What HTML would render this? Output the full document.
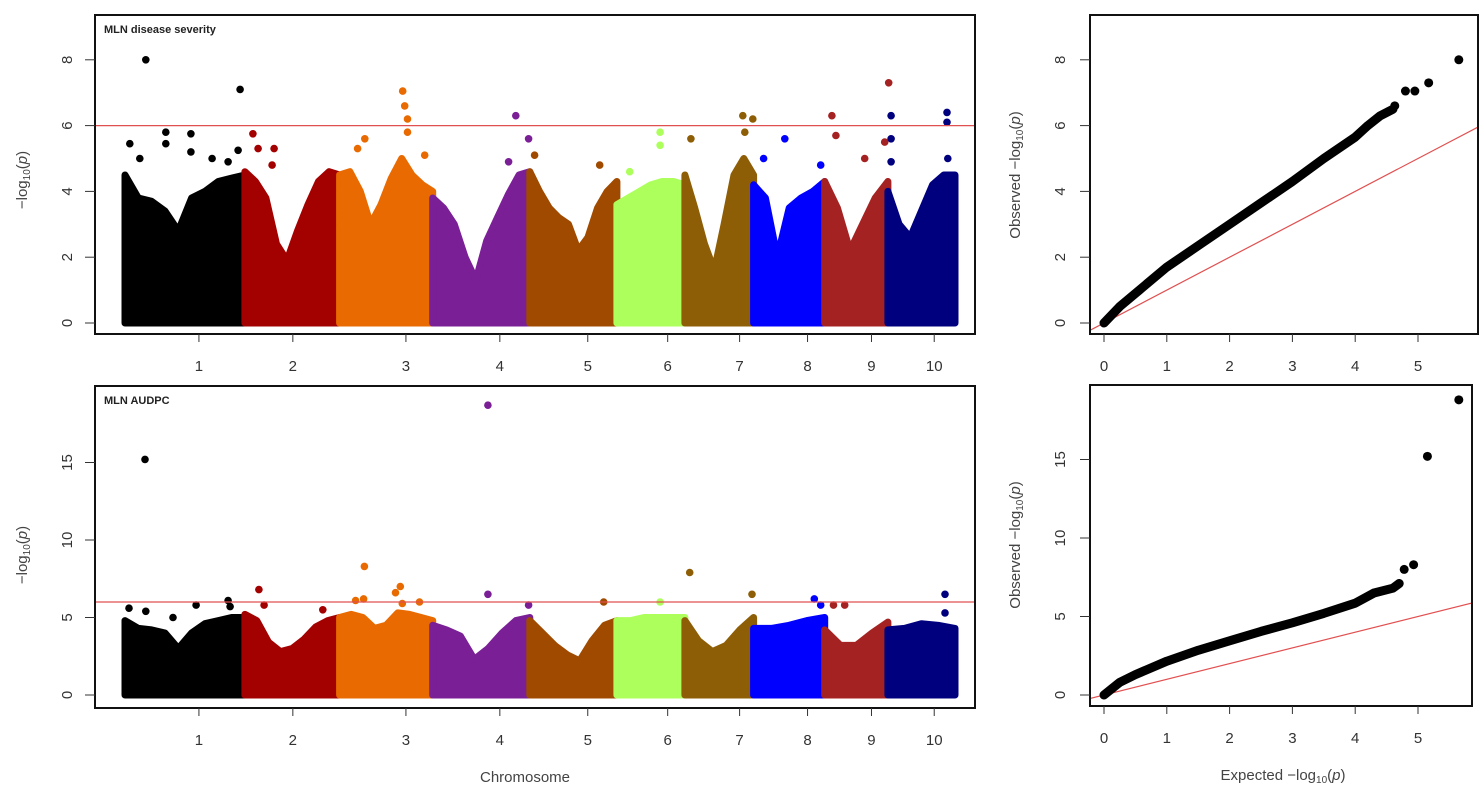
<!DOCTYPE html>
<html><head><meta charset="utf-8"><style>
body{margin:0;background:#fff}
svg{display:block;font-family:"Liberation Sans",Arial,sans-serif}
</style></head><body>
<svg id="fig" width="1481" height="795" viewBox="0 0 1481 795" xmlns="http://www.w3.org/2000/svg"></svg>
<script>
// ---------- DATA ----------
const chromosomes = ["1","2","3","4","5","6","7","8","9","10"];
const chromLengthsMb = [300,237,233,243,218,170,172,178,158,168];
const chromTickMb = [185,420,703,938,1158,1358,1538,1708,1868,2025];
const chromColors = ["#000000","#a30000","#e86a00","#7a1f96","#a04a00","#adff5c","#8e5e06","#0000ff","#a52222","#00007f"];
// envelope (upper edge of dense SNP cloud) sampled evenly along each chromosome
const envTop = [
 [4.5,3.8,3.7,3.4,2.8,3.8,4.0,4.3,4.4,4.5],
 [4.6,4.3,3.8,2.4,1.9,2.8,3.6,4.3,4.6,4.5],
 [4.5,4.6,4.0,3.0,3.6,4.4,5.0,4.5,4.2,4.0],
 [3.8,3.5,3.0,2.0,1.3,2.5,3.2,3.9,4.5,4.6],
 [4.6,4.0,3.5,3.2,3.0,2.2,2.6,3.5,4.0,4.3],
 [3.6,3.8,4.0,4.2,4.3,4.3,4.2],
 [4.5,3.5,2.4,1.6,3.0,4.5,5.0,4.5],
 [4.2,3.8,2.0,3.5,3.8,4.0,4.3],
 [4.3,3.5,2.2,3.0,3.8,4.3],
 [4.0,3.0,2.6,3.4,4.2,4.5,4.5]
];
const envBot = [
 [4.8,4.3,4.2,4.0,3.0,4.0,4.6,4.8,5.0,5.0],
 [5.2,4.8,3.4,2.8,3.0,3.6,4.4,4.8,5.0],
 [5.0,5.2,5.0,4.3,4.5,5.3,5.2,5.0,4.8],
 [4.5,4.2,3.8,2.3,3.0,4.0,4.8,5.0],
 [4.8,4.0,3.2,2.6,2.2,3.5,4.5,4.8],
 [4.8,4.8,5.0,5.0,5.0,5.0],
 [4.8,3.5,2.8,3.2,4.2,5.0],
 [4.3,4.3,4.5,4.8,5.0],
 [4.2,3.2,3.2,4.0,4.7],
 [4.2,4.3,4.6,4.5,4.3]
];
// significant / outlying SNPs : chromosome index, position within chromosome (Mb), -log10(p)
const peakChrTop = [0,0,0,0,0,0,0,0,0,0,0, 1,1,1,1, 2,2,2,2,2,2,2, 3,3,3, 4,4, 5,5,5, 6,6,6,6, 7,7,7, 8,8,8,8,8, 9,9,9,9,9,9];
const peakPosTop = [52,288,12,102,102,165,165,37,218,258,283, 20,33,68,73, 158,163,170,170,63,45,213, 208,190,240, 12,175, 108,108,32, 145,170,15,150, 78,25,168, 18,28,160,150,100, 8,8,8,148,148,150];
const peakValTop = [8.0,7.1,5.45,5.8,5.45,5.75,5.2,5.0,5.0,4.9,5.25, 5.75,5.3,4.8,5.3, 7.05,6.6,6.2,5.8,5.6,5.3,5.1, 6.3,4.9,5.6, 5.1,4.8, 5.8,5.4,4.6, 6.3,6.2,5.6,5.8, 5.6,5.0,4.8, 6.3,5.7,7.3,5.5,5.0, 6.3,5.6,4.9,6.4,6.1,5.0];
const peakChrBot = [0,0,0,0,0,0,0, 1,1,1, 2,2,2,2,2,2,2, 3,3,3, 4, 5, 6,6, 7,7, 8,8, 9,9];
const peakPosBot = [50,10,52,178,258,263,120, 35,48,195, 62,60,40,152,140,200,157, 138,138,240, 185, 108, 12,168, 152,168, 22,50, 143,143];
const peakValBot = [15.2,5.6,5.4,5.8,6.1,5.7,5.0, 6.8,5.8,5.5, 8.3,6.2,6.1,7.0,6.6,6.0,5.9, 18.7,6.5,5.8, 6.0, 6.0, 7.9,6.5, 6.2,5.8, 5.8,5.8, 6.5,5.3];
// QQ plots: expected vs observed
const qqExpTop = [0,0.25,0.5,1,1.5,2,2.5,3,3.5,4,4.2,4.4,4.6];
const qqObsTop = [0,0.5,0.9,1.7,2.35,3.0,3.65,4.3,5.0,5.65,6.0,6.3,6.5];
const qqPtExpTop = [4.63,4.8,4.95,5.17,5.65];
const qqPtObsTop = [6.6,7.05,7.05,7.3,8.0];
const qqExpBot = [0,0.25,0.5,1,1.5,2,2.5,3,3.5,4,4.3,4.6,4.7];
const qqObsBot = [0,0.8,1.3,2.15,2.85,3.45,4.05,4.6,5.2,5.85,6.5,6.8,7.1];
const qqPtExpBot = [4.78,4.93,5.15,5.65];
const qqPtObsBot = [8.0,8.3,15.2,18.8];
const yTicksTop = [0,2,4,6,8];
const yTicksBot = [0,5,10,15];
const qqXTicks = [0,1,2,3,4,5];
const threshold = 6;

// ---------- DRAWING ----------
const NS="http://www.w3.org/2000/svg";
const svg=document.getElementById('fig');
function el(tag,attrs,parent,txt){const e=document.createElementNS(NS,tag);for(const k in attrs)e.setAttribute(k,attrs[k]);if(txt!==undefined)e.textContent=txt;(parent||svg).appendChild(e);return e;}
const chromStart=[];let acc=0;chromLengthsMb.forEach(l=>{chromStart.push(acc);acc+=l;});
const totalMb=acc;
function xGenome(mb){return 125+mb/totalMb*830;}

function manhattan(o){
  const g=el('g',{});
  
  
  const y=v=>o.y0-v*o.ppu;
  chromosomes.forEach((c,i)=>{
    const env=o.env[i];const n=env.length;
    let pts=[[xGenome(chromStart[i]),y(0)]];
    env.forEach((v,k)=>{pts.push([xGenome(chromStart[i]+chromLengthsMb[i]*k/(n-1)),y(v)]);});
    pts.push([xGenome(chromStart[i]+chromLengthsMb[i]),y(0)]);
    const p=el('polygon',{points:pts.map(p=>p.map(q=>q.toFixed(1)).join(',')).join(' '),fill:chromColors[i],stroke:chromColors[i],'stroke-width':7,'stroke-linejoin':'round'},g);
    
    
  });
  o.pc.forEach((ci,k)=>{
    const d=el('circle',{cx:xGenome(chromStart[ci]+o.pp[k]).toFixed(1),cy:y(o.pv[k]).toFixed(1),r:3.8,fill:chromColors[ci]},g);
    
    
  });
  const t=el('line',{x1:o.bx0,x2:o.bx1,y1:y(threshold),y2:y(threshold),stroke:'#e05050','stroke-width':1.3},g);
  
  
  const b=el('rect',{x:o.bx0,y:o.by0,width:o.bx1-o.bx0,height:o.by1-o.by0,fill:'none',stroke:'#111','stroke-width':2},g);
  
  
  o.yt.forEach(v=>{
    el('line',{x1:85,x2:o.bx0,y1:y(v),y2:y(v),stroke:'#333','stroke-width':1},g);
    const tx=el('text',{x:67,y:y(v),'font-size':15,fill:'#333','text-anchor':'middle',transform:`rotate(-90 67 ${y(v)})`,dy:5},g,String(v));
    
    
  });
  chromTickMb.forEach((mb,i)=>{
    const x=xGenome(mb);
    el('line',{x1:x,x2:x,y1:o.by1,y2:o.by1+8,stroke:'#333','stroke-width':1},g);
    const tx=el('text',{x:x,y:o.by1+37,'font-size':15,fill:'#333','text-anchor':'middle'},g,chromosomes[i]);
    
    
  });
  const ttl=el('text',{x:o.bx0+9,y:o.by0+18,'font-size':11,'font-weight':'bold',fill:'#222'},g,o.title);
  
  
  const yl=el('text',{x:0,y:0,'font-size':15,fill:'#444','text-anchor':'middle',transform:`translate(27 ${o.ylabY}) rotate(-90)`},g);
  yl.innerHTML='−log<tspan font-size="10" dy="3">10</tspan><tspan dy="-3">(</tspan><tspan font-style="italic">p</tspan>)';
  
  
}

function qq(o){
  const g=el('g',{});
  
  
  const x=v=>1104+v*62.8, y=v=>o.y0-v*o.ppu;
  const clip='clip'+o.name;
  const cp=el('clipPath',{id:clip},g);el('rect',{x:o.bx0,y:o.by0,width:o.bx1-o.bx0,height:o.by1-o.by0},cp);
  const rl=el('line',{x1:x(-0.3),y1:y(-0.3),x2:x(6),y2:y(6),stroke:'#e05050','stroke-width':1.2,'clip-path':`url(#${clip})`},g);
  
  
  const pl=el('polyline',{points:o.ex.map((v,k)=>x(v).toFixed(1)+','+y(o.ob[k]).toFixed(1)).join(' '),fill:'none',stroke:'#000','stroke-width':9,'stroke-linecap':'round','stroke-linejoin':'round'},g);
  
  
  o.px.forEach((v,k)=>{
    const c=el('circle',{cx:x(v),cy:y(o.py[k]),r:4.5,fill:'#000'},g);
    
    
  });
  const b=el('rect',{x:o.bx0,y:o.by0,width:o.bx1-o.bx0,height:o.by1-o.by0,fill:'none',stroke:'#111','stroke-width':2},g);
  
  
  o.yt.forEach(v=>{
    el('line',{x1:1080,x2:o.bx0,y1:y(v),y2:y(v),stroke:'#333'},g);
    const tx=el('text',{x:1060,y:y(v),'font-size':15,fill:'#333','text-anchor':'middle',transform:`rotate(-90 1060 ${y(v)})`,dy:5},g,String(v));
    
    
  });
  qqXTicks.forEach(v=>{
    el('line',{x1:x(v),x2:x(v),y1:o.by1,y2:o.by1+8,stroke:'#333'},g);
    const tx=el('text',{x:x(v),y:o.by1+37,'font-size':15,fill:'#333','text-anchor':'middle'},g,String(v));
    
    
  });
  const yl=el('text',{x:0,y:0,'font-size':15,fill:'#444','text-anchor':'middle',transform:`translate(1020 ${o.ylabY}) rotate(-90)`},g);
  yl.innerHTML='Observed  −log<tspan font-size="10" dy="3">10</tspan><tspan dy="-3">(</tspan><tspan font-style="italic">p</tspan>)';
  
  
}

manhattan({name:'manhattan-severity',env:envTop,pc:peakChrTop,pp:peakPosTop,pv:peakValTop,y0:323,ppu:32.9,bx0:95,bx1:975,by0:15,by1:334,yt:yTicksTop,title:'MLN disease severity',ylabY:180});
manhattan({name:'manhattan-audpc',env:envBot,pc:peakChrBot,pp:peakPosBot,pv:peakValBot,y0:695,ppu:15.5,bx0:95,bx1:975,by0:386,by1:708,yt:yTicksBot,title:'MLN AUDPC',ylabY:555});
qq({name:'qq-severity',ex:qqExpTop,ob:qqObsTop,px:qqPtExpTop,py:qqPtObsTop,y0:323,ppu:32.9,bx0:1090,bx1:1478,by0:15,by1:334,yt:yTicksTop,ylabY:175});
qq({name:'qq-audpc',ex:qqExpBot,ob:qqObsBot,px:qqPtExpBot,py:qqPtObsBot,y0:695,ppu:15.7,bx0:1090,bx1:1472,by0:385,by1:706,yt:yTicksBot,ylabY:545});

const xl=el('text',{x:525,y:782,'font-size':15,fill:'#444','text-anchor':'middle'},svg,'Chromosome');


const xq=el('text',{x:1283,y:780,'font-size':15,fill:'#444','text-anchor':'middle'});
xq.innerHTML='Expected  −log<tspan font-size="10" dy="3">10</tspan><tspan dy="-3">(</tspan><tspan font-style="italic">p</tspan>)';


</script>
</body></html>
